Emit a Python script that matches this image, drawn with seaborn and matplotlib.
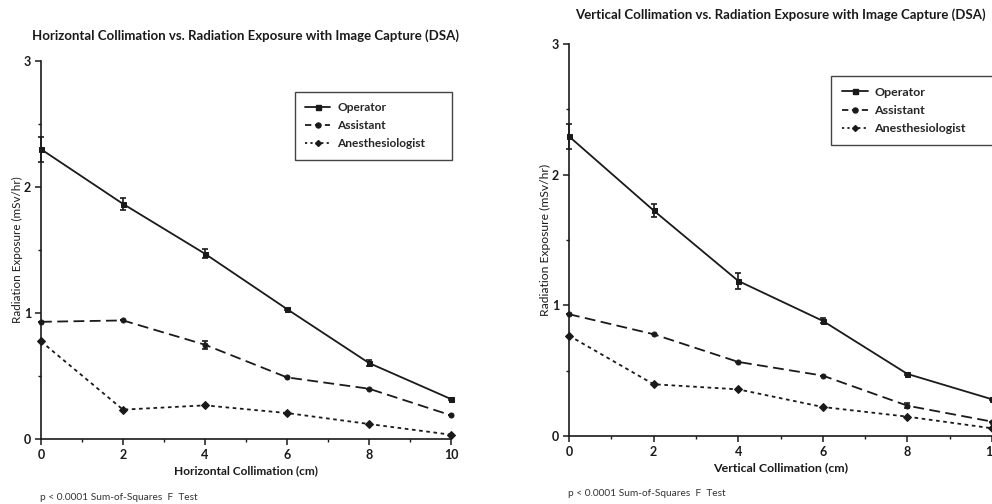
import numpy as np
import pandas as pd
import matplotlib
matplotlib.use("Agg")
import matplotlib.pyplot as plt
from matplotlib.ticker import MultipleLocator
from matplotlib.lines import Line2D
import seaborn as sns

collimation = [0, 2, 4, 6, 8, 10]
series_names = ["Operator", "Assistant", "Anesthesiologist"]

h_operator = [2.30, 1.866, 1.47, 1.031, 0.603, 0.317]
h_operator_err = [0.10, 0.05, 0.035, 0.01, 0.025, 0.01]
h_assistant = [0.930, 0.941, 0.748, 0.489, 0.399, 0.188]
h_assistant_err = [0.0, 0.0, 0.033, 0.0, 0.0, 0.0]
h_anesth = [0.775, 0.233, 0.267, 0.206, 0.119, 0.034]
h_anesth_err = [0.0, 0.0, 0.0, 0.0, 0.0, 0.0]

v_operator = [2.293, 1.726, 1.187, 0.881, 0.475, 0.281]
v_operator_err = [0.096, 0.047, 0.064, 0.02, 0.01, 0.005]
v_assistant = [0.932, 0.779, 0.567, 0.462, 0.232, 0.110]
v_assistant_err = [0.0, 0.0, 0.0, 0.0, 0.02, 0.0]
v_anesth = [0.768, 0.396, 0.357, 0.222, 0.148, 0.059]
v_anesth_err = [0.0, 0.0, 0.0, 0.0, 0.0, 0.0]

titles = ["Horizontal Collimation vs. Radiation Exposure with Image Capture (DSA)",
          "Vertical Collimation vs. Radiation Exposure with Image Capture (DSA)"]
xlabels = ["Horizontal Collimation (cm)", "Vertical Collimation (cm)"]
ylabel = "Radiation Exposure (mSv/hr)"
footnote = "p < 0.0001 Sum-of-Squares  F  Test"

sns.set_style("ticks")
plt.rcParams['font.family'] = ['Lato', 'DejaVu Sans']

INK = "#1a1a1a"
fig = plt.figure(figsize=(9.92, 5.04), dpi=100)
ax_l = fig.add_axes([41/992, 1-439/504, 410/992, 378/504])
ax_r = fig.add_axes([569/992, 1-436/504, 423/992, 392/504])

dash_seq = {"Operator": "", "Assistant": (6, 3), "Anesthesiologist": (2.0, 2.0)}
leg_styles = {"Operator": "-", "Assistant": (0, (3.5, 2.0)), "Anesthesiologist": (0, (1.2, 1.8))}
markers = {"Operator": "s", "Assistant": "o", "Anesthesiologist": "D"}
msizes = {"Operator": 3.6, "Assistant": 3.6, "Anesthesiologist": 3.0}

panels = [
    (ax_l, [h_operator, h_assistant, h_anesth], [h_operator_err, h_assistant_err, h_anesth_err]),
    (ax_r, [v_operator, v_assistant, v_anesth], [v_operator_err, v_assistant_err, v_anesth_err]),
]

for i, (ax, vals, errs) in enumerate(panels):
    sc = 1.0 if i == 0 else 1.035
    rows = []
    for name, v in zip(series_names, vals):
        for x, y in zip(collimation, v):
            rows.append({"x": x, "y": y, "series": name})
    df = pd.DataFrame(rows)
    sns.lineplot(data=df, x="x", y="y", hue="series", style="series",
                 palette={n: INK for n in series_names},
                 dashes=dash_seq, markers=markers, markersize=3.6,
                 markeredgecolor=INK, linewidth=1.3, ax=ax, legend=False,
                 clip_on=False)
    for name, v, e in zip(series_names, vals, errs):
        ax.errorbar(collimation, v, yerr=e, fmt="none", ecolor=INK,
                    elinewidth=1.2, capsize=2.5, capthick=1.2, clip_on=False)
    handles = [Line2D([], [], color=INK, linestyle=leg_styles[n], marker=markers[n],
                      markersize=msizes[n], linewidth=1.3) for n in series_names]
    leg = ax.legend(handles, series_names, loc="upper left",
                    bbox_to_anchor=(0.62, 0.918, 0.383 if i == 0 else 0.385, 0.0),
                    mode="expand", frameon=True, fancybox=False,
                    edgecolor="#444444", framealpha=1, handlelength=2.1,
                    borderpad=0.85, labelspacing=0.6, handletextpad=0.55,
                    borderaxespad=0, prop={"weight": "bold", "size": 8.6 * sc})
    leg.get_frame().set_linewidth(1.0)

    ax.set_xlim(0, 10)
    ax.set_ylim(0, 3)
    ax.xaxis.set_major_locator(MultipleLocator(2))
    ax.xaxis.set_minor_locator(MultipleLocator(1))
    ax.yaxis.set_major_locator(MultipleLocator(1))
    ax.yaxis.set_minor_locator(MultipleLocator(0.5))
    ax.tick_params(which="major", length=4, width=1.1, color=INK, labelsize=9,
                   labelcolor=INK, pad=3)
    ax.tick_params(which="minor", length=2.5, width=1.0, color=INK)
    for lab in ax.get_xticklabels() + ax.get_yticklabels():
        lab.set_fontweight("bold")
    for s in ["left", "bottom"]:
        ax.spines[s].set_linewidth(1.2)
        ax.spines[s].set_color(INK)
    sns.despine(ax=ax)
    ax.set_xlabel(xlabels[i], fontsize=8.6 * sc, fontweight="bold", color=INK, labelpad=3)
    ax.set_ylabel(ylabel, fontsize=8.4 * sc, color=INK, labelpad=1)
    ax.set_title(titles[i], fontsize=9.5, fontweight="bold", color=INK,
                 pad=15 if i == 0 else 18, loc="center")

fig.text(40/992, 1-497/504, footnote, fontsize=7.3, color="#333333", va="center")
fig.text(568/992, 1-494/504, footnote, fontsize=7.3, color="#333333", va="center")

fig.savefig("out.png", dpi=100)
